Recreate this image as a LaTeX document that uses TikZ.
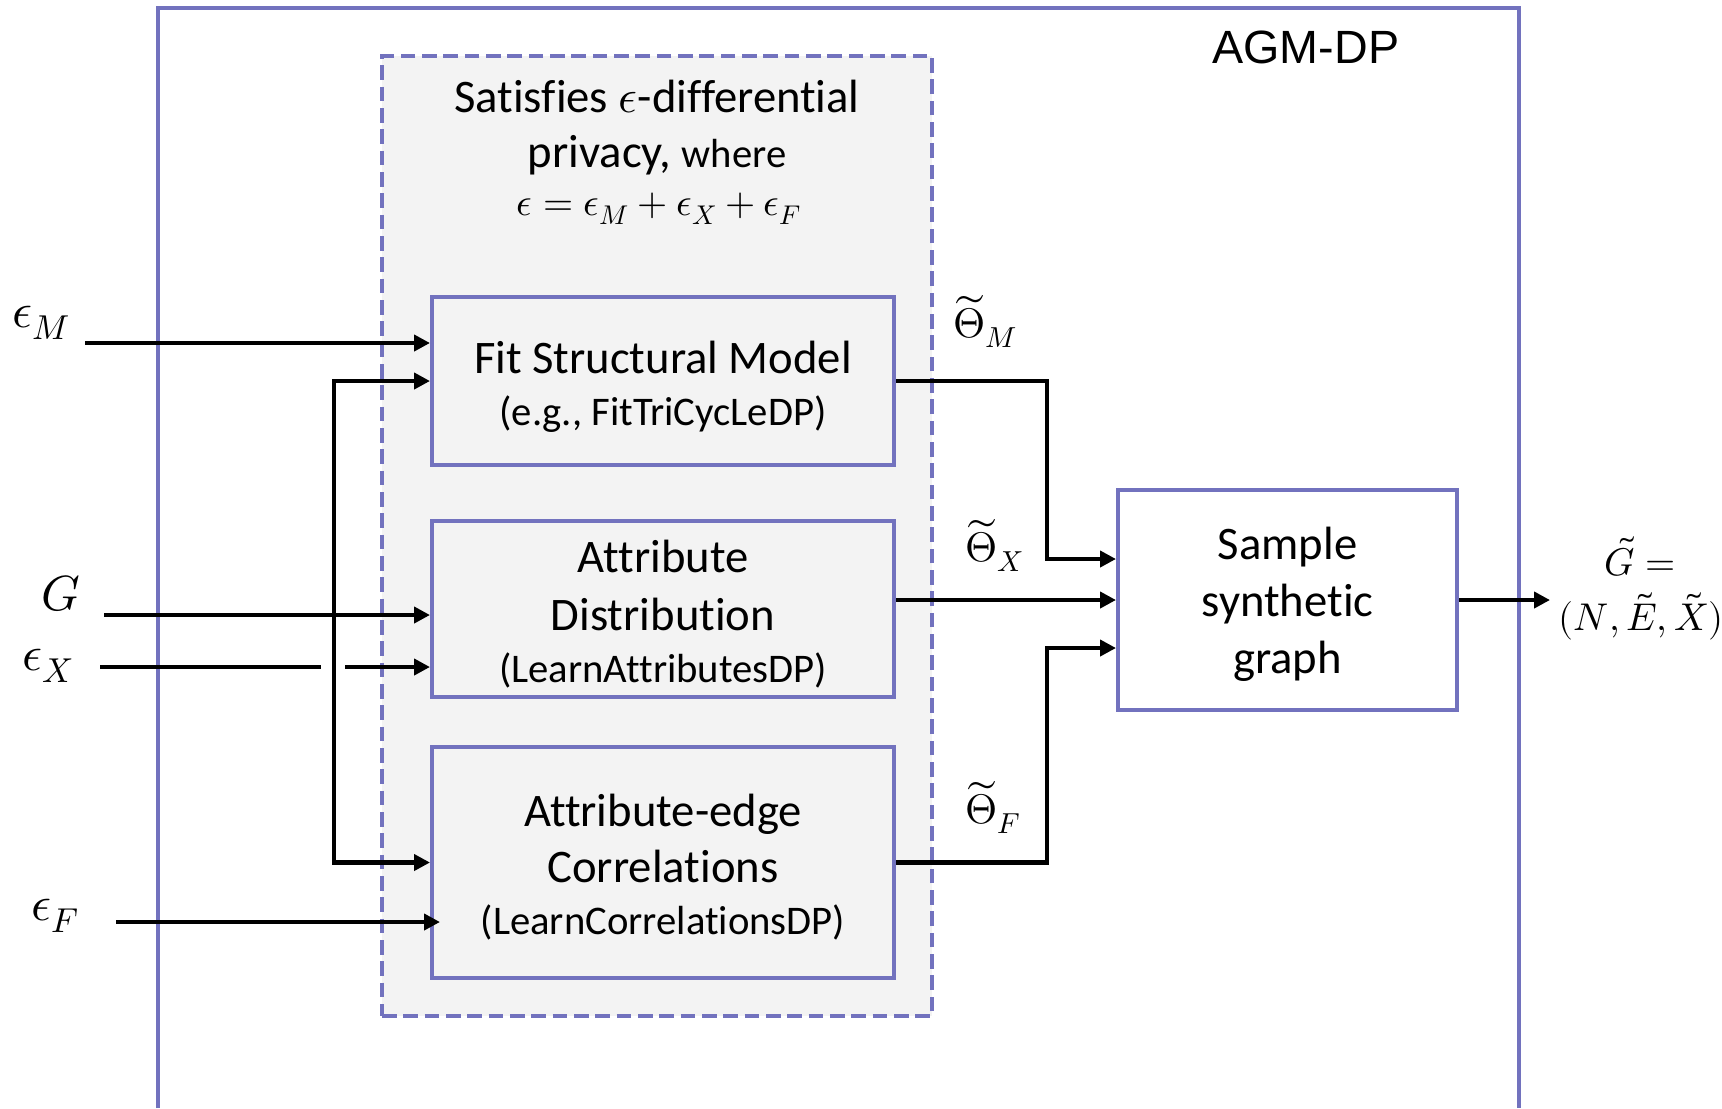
\documentclass[tikz,border=0pt]{standalone}
\usepackage{fontspec}
\usepackage{unicode-math}
\setmainfont{Carlito}[Ligatures=NoCommon]
\newfontfamily\agmfont{Liberation Sans}
\usetikzlibrary{arrows.meta,calc}

\definecolor{agmblue}{RGB}{114,114,190}
\definecolor{dpgray}{RGB}{243,243,243}

\tikzset{every picture/.style={line width=0.75pt}}
\tikzset{
  procbox/.style={draw=agmblue, line width=3pt, fill=dpgray, inner sep=0pt, minimum width=346.5pt},
  flowline/.style={line width=3.5pt},
  flow/.style={line width=3.5pt, -{Triangle[length=12pt,width=12pt]}},
  bigtxt/.style={anchor=base, inner sep=0pt, font=\fontsize{35}{42}\selectfont},
  smalltxt/.style={anchor=base, inner sep=0pt, font=\fontsize{30.5}{37}\selectfont},
  mathlbl/.style={anchor=base west, inner sep=0pt, font=\fontsize{37}{44}\selectfont},
  thetalbl/.style={anchor=base west, inner sep=0pt, font=\fontsize{31}{37}\selectfont},
}

\begin{document}
\begin{tikzpicture}[x=0.75pt,y=0.75pt,yscale=-1,xscale=1]
	\useasboundingbox (0,0) rectangle (1722,1108);

	%Shape: outer frame, open at the bottom
	\draw [agmblue, line width=3pt] (158,1108) -- (158,8) -- (1519,8) -- (1519,1108) ;
	% Text Node
	\node [anchor=base west, inner sep=0pt, font=\agmfont\fontsize{35}{42}\selectfont] (agmtitle) at (1212,63) {AGM-DP};

	%Shape: dashed DP region
	\node [draw=agmblue, fill=dpgray, line width=3pt, dash pattern=on 11pt off 5pt, minimum width=412.5pt, minimum height=720pt, inner sep=0pt] (dpregion) at (657,536) {};
	% Text Nodes
	\node [bigtxt] (dpA) at (657,112) {Satisfies $\epsilon$-differential};
	\node [bigtxt] (dpB) at (657,167) {privacy, {\fontsize{30.5}{37}\selectfont where}};
	\node [anchor=base, inner sep=0pt, font=\fontsize{29}{35}\selectfont] (dpC) at (659,215) {$\epsilon = \epsilon_M + \epsilon_X + \epsilon_F$};

	%Shape: process boxes
	\node [procbox, minimum height=126pt] (fit) at (663,381) {};
	\node [procbox, minimum height=132pt] (attr) at (663,609) {};
	\node [procbox, minimum height=173.25pt] (corr) at (663,862.5) {};
	\node [procbox, fill=white, minimum width=254.25pt, minimum height=165pt] (samp) at (1287.5,600) {};

	% Text Nodes
	\node [bigtxt] (fitA) at (663,373) {Fit Structural Model};
	\node [smalltxt] (fitB) at (663,425) {(e.g., FitTriCycLeDP)};
	\node [bigtxt] (attrA) at (663,572) {Attribute};
	\node [bigtxt] (attrB) at (663,630) {Distribution};
	\node [smalltxt] (attrC) at (663,682) {(LearnAttributesDP)};
	\node [bigtxt] (corrA) at (663,826) {Attribute-edge};
	\node [bigtxt] (corrB) at (663,882) {Correlations};
	\node [smalltxt] (corrC) at (663,934) {(LearnCorrelationsDP)};
	\node [bigtxt] (sampA) at (1287.5,559) {Sample};
	\node [bigtxt] (sampB) at (1287.5,616) {synthetic};
	\node [bigtxt] (sampC) at (1287.5,673) {graph};

	% Input labels
	\node [mathlbl] (lblM) at (12,327) {$\epsilon_M$};
	\node [mathlbl] (lblG) at (41,610) {$G$};
	\node [mathlbl] (lblX) at (22,670) {$\epsilon_X$};
	\node [mathlbl] (lblF) at (31,920) {$\epsilon_F$};
	% Output labels
	\node [thetalbl] (lblThM) at (953,337) {$\widetilde{\Theta}_M$};
	\node [thetalbl] (lblThX) at (965,561) {$\widetilde{\Theta}_X$};
	\node [thetalbl] (lblThF) at (965,823) {$\widetilde{\Theta}_F$};
	\node [anchor=base, inner sep=0pt, font=\fontsize{29}{35}\selectfont] (lblGA) at (1640,575) {$\tilde{G} =$};
	\node [anchor=base, inner sep=0pt, font=\fontsize{29}{35}\selectfont] (lblGB) at (1641,630) {$(N,\tilde{E},\tilde{X})$};

	% free ends and turns
	\coordinate (inM) at (85,343);
	\coordinate (inG) at (104,615);
	\coordinate (inX) at (100,667);
	\coordinate (inF) at (116,922);
	\coordinate (bus) at (334,615);
	\coordinate (turnM) at (1047,559);
	\coordinate (turnF) at (1047,648);
	\coordinate (outG) at (1550,600);

	%Straight Lines: inputs
	\draw [flow] (inM) -- (inM -| fit.west) ;
	\draw [flow] (inG) -- (inG -| attr.west) ;
	\draw [flow] (bus) |- (fit.west) ;
	\draw [flow] (bus) |- (corr.west) ;
	\draw [flowline] (inX) -- ($(bus |- inX)+(-13,0)$) ;
	\draw [flow] ($(bus |- inX)+(11,0)$) -- (inX -| attr.west) ;
	\draw [flow] (inF) -- ($(inF -| corr.west)+(10,0)$) ;

	%Straight Lines: outputs
	\draw [flow] (fit.east) -| (turnM) -- (turnM -| samp.west) ;
	\draw [flow] (samp.west -| attr.east) -- (samp.west) ;
	\draw [flow] (corr.east) -| (turnF) -- (turnF -| samp.west) ;
	\draw [flow] (samp.east) -- (outG) ;

\end{tikzpicture}
\end{document}
